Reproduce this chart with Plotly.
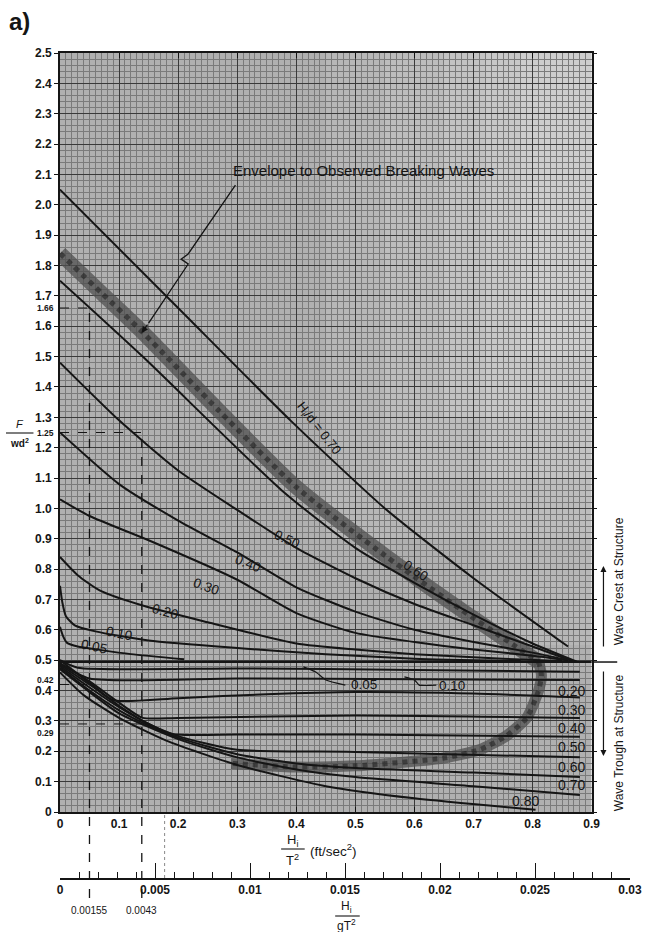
import plotly.graph_objects as go

# ---------------- DATA ----------------
G_FT = 32.2  # g in ft/sec^2, links Hi/T^2 to Hi/gT^2

# axis ticks
x_tickvals = [0, 0.1, 0.2, 0.3, 0.4, 0.5, 0.6, 0.7, 0.8, 0.9]
x_ticktext = ["0", "0.1", "0.2", "0.3", "0.4", "0.5", "0.6", "0.7", "0.8", "0.9"]
y_tickvals = [0, 0.1, 0.2, 0.3, 0.4, 0.5, 0.6, 0.7, 0.8, 0.9, 1.0, 1.1, 1.2, 1.3,
              1.4, 1.5, 1.6, 1.7, 1.8, 1.9, 2.0, 2.1, 2.2, 2.3, 2.4, 2.5]
y_ticktext = ["0", "0.1", "0.2", "0.3", "0.4", "0.5", "0.6", "0.7", "0.8", "0.9", "1.0",
              "1.1", "1.2", "1.3", "1.4", "1.5", "1.6", "1.7", "1.8", "1.9", "2.0",
              "2.1", "2.2", "2.3", "2.4", "2.5"]
x2_tickvals = [0, 0.005, 0.01, 0.015, 0.02, 0.025, 0.03]
x2_ticktext = ["0", "0.005", "0.01", "0.015", "0.02", "0.025", "0.03"]

# Wave crest at structure: curves for Hi/d
crest_05_x = [0, 0.005, 0.012, 0.03, 0.067, 0.12, 0.21]
crest_05_y = [0.61, 0.58, 0.557, 0.545, 0.534, 0.52, 0.503]
crest_10_x = [0, 0.004, 0.01, 0.025, 0.06, 0.15, 0.3, 0.45, 0.6, 0.78]
crest_10_y = [0.745, 0.69, 0.645, 0.615, 0.595, 0.565, 0.54, 0.52, 0.505, 0.497]
crest_20_x = [0, 0.03, 0.067, 0.14, 0.25, 0.4, 0.5, 0.6, 0.75, 0.85]
crest_20_y = [0.84, 0.78, 0.73, 0.68, 0.625, 0.555, 0.535, 0.52, 0.505, 0.497]
crest_30_x = [0, 0.05, 0.15, 0.3, 0.4, 0.5, 0.6, 0.7, 0.8, 0.86]
crest_30_y = [1.03, 0.975, 0.895, 0.765, 0.655, 0.59, 0.56, 0.535, 0.515, 0.50]
crest_40_x = [0, 0.1, 0.2, 0.3, 0.4, 0.5, 0.6, 0.7, 0.8, 0.86]
crest_40_y = [1.25, 1.08, 0.96, 0.855, 0.74, 0.66, 0.60, 0.56, 0.525, 0.50]
crest_50_x = [0, 0.1, 0.2, 0.3, 0.4, 0.5, 0.6, 0.7, 0.8, 0.87]
crest_50_y = [1.48, 1.29, 1.125, 0.995, 0.87, 0.77, 0.685, 0.615, 0.545, 0.495]
crest_60_x = [0, 0.14, 0.375, 0.5, 0.6, 0.7, 0.8, 0.875]
crest_60_y = [1.75, 1.50, 1.06, 0.87, 0.755, 0.65, 0.555, 0.495]
crest_70_x = [0, 0.2, 0.39, 0.55, 0.7, 0.86]
crest_70_y = [2.05, 1.66, 1.29, 1.0, 0.77, 0.545]

# Wave trough at structure: curves for Hi/d
trough_05_x = [0, 0.03, 0.3, 0.6, 0.88]
trough_05_y = [0.50, 0.475, 0.473, 0.468, 0.462]
trough_10_x = [0, 0.05, 0.3, 0.6, 0.88]
trough_10_y = [0.49, 0.44, 0.44, 0.437, 0.435]
trough_20_x = [0, 0.03, 0.06, 0.09, 0.2, 0.35, 0.5, 0.7, 0.88]
trough_20_y = [0.50, 0.455, 0.41, 0.368, 0.375, 0.388, 0.395, 0.39, 0.377]
trough_30_x = [0, 0.05, 0.1, 0.14, 0.2, 0.5, 0.88]
trough_30_y = [0.49, 0.43, 0.36, 0.31, 0.31, 0.318, 0.31]
trough_40_x = [0, 0.05, 0.1, 0.15, 0.19, 0.3, 0.5, 0.88]
trough_40_y = [0.485, 0.42, 0.35, 0.29, 0.257, 0.255, 0.255, 0.248]
trough_50_x = [0, 0.05, 0.1, 0.15, 0.2, 0.3, 0.5, 0.88]
trough_50_y = [0.48, 0.41, 0.345, 0.29, 0.25, 0.205, 0.198, 0.18]
trough_60_x = [0, 0.05, 0.1, 0.15, 0.2, 0.3, 0.4, 0.5, 0.7, 0.88]
trough_60_y = [0.475, 0.40, 0.335, 0.285, 0.245, 0.19, 0.16, 0.145, 0.13, 0.115]
trough_70_x = [0, 0.05, 0.1, 0.2, 0.3, 0.4, 0.5, 0.7, 0.88]
trough_70_y = [0.47, 0.395, 0.325, 0.24, 0.18, 0.14, 0.115, 0.085, 0.056]
trough_80_x = [0, 0.04, 0.1, 0.18, 0.3, 0.45, 0.6, 0.805]
trough_80_y = [0.46, 0.385, 0.31, 0.235, 0.155, 0.085, 0.045, 0.007]

# envelope to observed breaking waves (shaded band)
band_crest_x = [0, 0.07, 0.14, 0.27, 0.4, 0.55, 0.68, 0.76, 0.81]
band_crest_y = [1.84, 1.71, 1.58, 1.32, 1.07, 0.845, 0.665, 0.56, 0.495]
band_trough_x = [0.81, 0.815, 0.81, 0.79, 0.755, 0.71, 0.65, 0.5, 0.4, 0.29]
band_trough_y = [0.495, 0.45, 0.40, 0.31, 0.25, 0.205, 0.178, 0.152, 0.148, 0.16]

# crest / trough divide
divide_y = 0.494

# worked example: Hi/gT^2 values and read-off forces
example_gT2 = [0.00155, 0.0043]
example_crest = [1.66, 1.25]
example_trough = [0.42, 0.29]
faint_gT2 = 0.0055

# leaders for the labels
env_leader_x = [0.297, 0.217, 0.205, 0.217, 0.15]
env_leader_y = [2.065, 1.838, 1.821, 1.805, 1.61]
lead05_x = [0.412, 0.433, 0.45, 0.483]
lead05_y = [0.478, 0.461, 0.435, 0.418]
lead10_x = [0.583, 0.60, 0.608, 0.637]
lead10_y = [0.445, 0.435, 0.418, 0.418]

# ---------------- LAYOUT GEOMETRY ----------------
W, H = 654, 932
ML, MR, MT, MB = 60, 14, 53, 40
PW, PH = W - ML - MR, H - MT - MB


def px(xp):
    return (xp - ML) / PW


def py(yp):
    return (H - MB - yp) / PH


X_DOM_END = px(601)
Y_DOM_BOT = py(812)
Y2_BOT = py(878)
YMAX = 2.5
XMAX = 0.9


def ypaper(v):
    return Y_DOM_BOT + v / YMAX * (1 - Y_DOM_BOT)


FONT = "Liberation Sans"
INK = "#151515"

fig = go.Figure()

line_style = dict(color=INK, width=2.0, shape="spline", smoothing=0.6)


def add_line(xs, ys, style=None):
    fig.add_trace(go.Scatter(x=xs, y=ys, mode="lines", line=style or line_style,
                             hoverinfo="skip", showlegend=False))


# band
for bx, by, wdt in [(band_crest_x, band_crest_y, 15), (band_trough_x, band_trough_y, 11)]:
    add_line(bx, by, dict(color="rgba(80,80,80,0.75)", width=wdt, shape="spline", smoothing=0.6))
    add_line(bx, by, dict(color="rgba(20,20,20,0.5)", width=5, dash="dot", shape="spline", smoothing=0.6))

for xs, ys in [(crest_05_x, crest_05_y), (crest_10_x, crest_10_y), (crest_20_x, crest_20_y),
               (crest_30_x, crest_30_y), (crest_40_x, crest_40_y), (crest_50_x, crest_50_y),
               (crest_60_x, crest_60_y), (crest_70_x, crest_70_y),
               (trough_05_x, trough_05_y), (trough_10_x, trough_10_y), (trough_20_x, trough_20_y),
               (trough_30_x, trough_30_y), (trough_40_x, trough_40_y), (trough_50_x, trough_50_y),
               (trough_60_x, trough_60_y), (trough_70_x, trough_70_y), (trough_80_x, trough_80_y)]:
    add_line(xs, ys)

thin = dict(color=INK, width=1.2, shape="spline", smoothing=0.5)
add_line(env_leader_x, env_leader_y, dict(color=INK, width=1.3))
add_line(lead05_x, lead05_y, thin)
add_line(lead10_x, lead10_y, thin)

# dummy trace for the lower Hi/gT^2 axis
fig.add_trace(go.Scatter(x=[x2_tickvals[0], x2_tickvals[-1]], y=[0, 0], xaxis="x2", yaxis="y2",
                         mode="markers", marker=dict(opacity=0), hoverinfo="skip", showlegend=False))

shapes = []
# graph-paper background of the main chart only
shapes.append(dict(type="rect", xref="x", yref="y", x0=0, x1=XMAX, y0=0, y1=YMAX, layer="below",
                   fillcolor="#b0b0b0", line=dict(width=0)))
# lighter (faded) area of the scanned paper toward the upper right
for fx0, fy0 in [(0.45, 0.9), (0.55, 1.1), (0.65, 1.3), (0.72, 0.55), (0.78, 1.5)]:
    shapes.append(dict(type="rect", xref="x", yref="y", x0=fx0, x1=XMAX, y0=fy0, y1=YMAX, layer="below",
                       fillcolor="rgba(255,255,255,0.09)", line=dict(width=0)))
# divider line and its extension outside the plot
shapes.append(dict(type="line", xref="x", yref="y", x0=0, x1=XMAX, y0=divide_y, y1=divide_y,
                   line=dict(color=INK, width=2.0)))
shapes.append(dict(type="line", xref="paper", yref="y", x0=X_DOM_END, x1=px(627), y0=divide_y,
                   y1=divide_y, line=dict(color=INK, width=1.5)))
# worked example dashed lines
for g, c, t in zip(example_gT2, example_crest, example_trough):
    xv = g * G_FT
    shapes.append(dict(type="line", xref="x", yref="paper", x0=xv, x1=xv, y0=py(898), y1=ypaper(c),
                       line=dict(color=INK, width=1.3, dash="dash")))
    shapes.append(dict(type="line", xref="x", yref="y", x0=0, x1=xv, y0=c, y1=c,
                       line=dict(color=INK, width=1.2, dash="dash")))
    shapes.append(dict(type="line", xref="x", yref="y", x0=0, x1=xv, y0=t, y1=t,
                       line=dict(color=INK, width=1.0, dash="dash")))
shapes.append(dict(type="line", xref="x", yref="paper", x0=faint_gT2 * G_FT, x1=faint_gT2 * G_FT,
                   y0=Y2_BOT, y1=Y_DOM_BOT, line=dict(color="#888", width=1, dash="dot")))
# fraction bars
for x0p, x1p, yp in [(285, 309, 849), (5, 33, 433), (340, 365, 916)]:
    shapes.append(dict(type="line", xref="paper", yref="paper", x0=px(x0p), x1=px(x1p),
                       y0=py(yp), y1=py(yp), line=dict(color=INK, width=1.1)))

ann = []


def txt(text, x, y, size=11, angle=0, xanchor="center", xref="paper", yref="paper", bold=False, **kw):
    ann.append(dict(text=("<b>%s</b>" % text) if bold else text, x=x, y=y, xref=xref, yref=yref,
                    showarrow=False, textangle=angle, xanchor=xanchor, yanchor="middle",
                    font=dict(family=FONT, size=size, color=INK), **kw))


txt("a)", px(6), py(21), size=24, xanchor="left", bold=True)
txt("Envelope to Observed Breaking Waves", px(369), py(170), size=15)

# crest curve labels
for t, x, y, a in [("0.05", 0.057, 0.545, 12), ("0.10", 0.10, 0.588, 12), ("0.20", 0.177, 0.66, 15),
                   ("0.30", 0.247, 0.742, 20), ("0.40", 0.318, 0.82, 22), ("0.50", 0.385, 0.899, 24),
                   ("0.60", 0.602, 0.797, 33)]:
    txt(t, x, y, size=13.5, angle=a, xref="x", yref="y")
txt("H<sub>i</sub>/d = 0.70", 0.437, 1.262, size=13, angle=52, xref="x", yref="y")

# trough curve labels
for t, y in [("0.20", 0.40), ("0.30", 0.336), ("0.40", 0.277), ("0.50", 0.214), ("0.60", 0.148),
             ("0.70", 0.089)]:
    txt(t, 0.865, y, size=14, xref="x", yref="y")
txt("0.80", 0.788, 0.035, size=14, xref="x", yref="y")
txt("0.05", 0.515, 0.42, size=13.5, xref="x", yref="y")
txt("0.10", 0.663, 0.418, size=13.5, xref="x", yref="y")

# extra y labels of the worked example
for v, dy in [(example_crest[0], 0), (example_crest[1], 0), (example_trough[0], 4), (example_trough[1], -9)]:
    ann.append(dict(text="<b>%g</b>" % v, x=px(56), y=ypaper(v), xref="paper", yref="paper",
                    showarrow=False, xanchor="right", yanchor="middle", yshift=dy,
                    font=dict(family=FONT, size=8.5, color=INK)))
for g in example_gT2:
    txt("%g" % g, g / x2_tickvals[-1], py(910), size=10, xref="paper")

# axis titles
txt("<i>F</i>", px(19), py(424), size=11)
txt("<b>wd<sup>2</sup></b>", px(19), py(443), size=10)
txt("H<sub>i</sub>", px(297), py(840), size=13)
txt("T<sup>2</sup>", px(297), py(860), size=13)
txt("(ft/sec<sup>2</sup>)", px(312), py(850), size=13.5, xanchor="left")
txt("H<sub>i</sub>", px(352), py(907), size=12)
txt("gT<sup>2</sup>", px(352), py(925), size=12)

# right-side notes
txt("Wave Crest at Structure", px(629), py(581), size=12, angle=-90)
txt("Wave Trough at Structure", px(629), py(743), size=12, angle=-90)
for yhead, ay in [(566, 82), (756, -86)]:
    ann.append(dict(x=px(613), y=py(yhead), xref="paper", yref="paper", ax=0, ay=ay, text="",
                    showarrow=True, arrowhead=2, arrowsize=1, arrowwidth=1.2, arrowcolor=INK))
# envelope arrowhead
ann.append(dict(x=0.138, y=1.578, xref="x", yref="y", ax=0.15, ay=1.61, axref="x", ayref="y",
                text="", showarrow=True, arrowhead=2, arrowsize=1, arrowwidth=1.3, arrowcolor=INK))

tickfont = dict(family=FONT, size=12, color=INK, weight="bold")
fig.update_layout(
    width=W, height=H, margin=dict(l=ML, r=MR, t=MT, b=MB),
    paper_bgcolor="white", plot_bgcolor="rgba(0,0,0,0)", showlegend=False, hovermode=False,
    shapes=shapes, annotations=ann,
    xaxis=dict(domain=[0, X_DOM_END], range=[0, XMAX], tickvals=x_tickvals, ticktext=x_ticktext,
               showgrid=True, gridcolor="#3a3a3a", gridwidth=1, zeroline=False,
               minor=dict(dtick=0.01, tick0=0, showgrid=True, gridcolor="#7a7a7a", gridwidth=0.6),
               showline=True, linecolor=INK, linewidth=1.6, mirror="ticks", ticks="inside",
               ticklen=5, tickcolor=INK, tickfont=tickfont, anchor="y"),
    yaxis=dict(domain=[Y_DOM_BOT, 1], range=[0, YMAX], tickvals=y_tickvals, ticktext=y_ticktext,
               showgrid=True, gridcolor="#3a3a3a", gridwidth=1, zeroline=False,
               minor=dict(dtick=0.02, tick0=0, showgrid=True, gridcolor="#7a7a7a", gridwidth=0.6),
               showline=True, linecolor=INK, linewidth=1.6, mirror="ticks", ticks="outside",
               ticklen=4, tickcolor=INK, tickfont=tickfont, anchor="x"),
    xaxis2=dict(domain=[0, 1], range=[x2_tickvals[0], x2_tickvals[-1]], anchor="y2",
                tickvals=x2_tickvals, ticktext=x2_ticktext, showgrid=False, zeroline=False,
                showline=True, linecolor=INK, linewidth=1.5, ticks="inside", ticklen=15,
                tickwidth=1.3, tickcolor=INK, tickfont=tickfont,
                minor=dict(dtick=0.001, tick0=0, ticks="inside", ticklen=6, tickwidth=1,
                           tickcolor=INK, showgrid=False)),
    yaxis2=dict(domain=[Y2_BOT, Y2_BOT + 0.01], range=[0, 1], visible=False),
)

fig.write_html("out.html", config={"displayModeBar": False},
               post_script="document.body.style.margin='0px';")
